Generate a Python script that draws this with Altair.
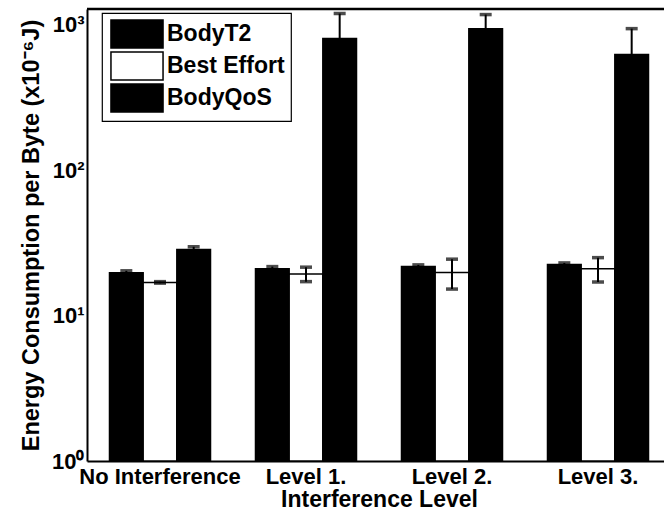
import altair as alt
import pandas as pd

# Interference levels on the x axis and the three protocols compared
levels = ["No Interference", "Level 1.", "Level 2.", "Level 3."]
series = ["BodyT2", "Best Effort", "BodyQoS"]

# Mean energy per byte (x10^-6 J) and its spread for each protocol
bodyt2 = [19.7, 21.0, 21.7, 22.4]
bodyt2_err = [0.6, 0.7, 0.6, 0.6]
best_effort = [16.9, 19.3, 19.8, 21.0]
best_effort_err = [0.2, 2.2, 4.6, 4.0]
bodyqos = [28.4, 801.0, 938.0, 622.0]
bodyqos_err = [1.3, 390.0, 234.0, 316.0]

rows = []
for name, vals, errs in [
    ("BodyT2", bodyt2, bodyt2_err),
    ("Best Effort", best_effort, best_effort_err),
    ("BodyQoS", bodyqos, bodyqos_err),
]:
    for lvl, v, e in zip(levels, vals, errs):
        rows.append({"level": lvl, "series": name, "value": v,
                     "lo": v - e, "hi": v + e})
df = pd.DataFrame(rows)

FONT = "Liberation Sans"

x_enc = alt.X(
    "level:N",
    sort=levels,
    scale=alt.Scale(domain=levels, range=[0, 584], paddingInner=0, paddingOuter=0),
    axis=alt.Axis(
        title="Interference Level",
        labelAngle=0,
        labelFontSize=22,
        labelFontWeight="bold",
        labelPadding=5,
        labelColor="black",
        ticks=False,
        domainColor="black",
        domainWidth=2,
        titleFontSize=23,
        titleFontWeight="bold",
        titlePadding=1,
        titleColor="black",
    ),
)
xo_enc = alt.XOffset(
    "series:N",
    sort=series,
    scale=alt.Scale(domain=series, paddingInner=0, paddingOuter=0.668),
)
y_scale = alt.Scale(type="log", domain=[1, 1280], nice=False)
y_axis = alt.Axis(
    title="Energy Consumption per Byte (x10⁻⁶J)",
    values=[1, 10, 100, 1000],
    labelExpr="'10' + ['⁰','¹','²','³'][round(log(datum.value)/LN10)]",
    labelFontSize=22,
    labelFontWeight="bold",
    labelPadding=3,
    labelColor="black",
    ticks=False,
    grid=False,
    domainColor="black",
    domainWidth=2,
    titleFontSize=23.5,
    titleFontWeight="bold",
    titlePadding=8,
    titleColor="black",
)

base = alt.Chart(df)

bars = base.mark_bar(stroke="black", strokeWidth=1.5).encode(
    x=x_enc,
    xOffset=xo_enc,
    y=alt.Y("value:Q", scale=y_scale, axis=y_axis),
    y2=alt.datum(1),
    fill=alt.Fill(
        "series:N",
        scale=alt.Scale(domain=series, range=["black", "white", "black"]),
        legend=alt.Legend(
            title=None,
            orient="none",
            legendX=15,
            legendY=4,
            padding=6,
            strokeColor="black",
            fillColor="white",
            labelFontSize=23,
            labelFontWeight="bold",
            labelColor="black",
            labelExpr="datum.label + '\u00a0\u00a0'",
            symbolType="M-1.86,-1H1.86V1H-1.86Z",
            symbolSize=784,
            symbolStrokeColor="black",
            symbolStrokeWidth=1.5,
            symbolOffset=14,
            labelOffset=15,
            rowPadding=-2,
        ),
    ),
)

err_rules = base.mark_rule(color="black", strokeWidth=2).encode(
    x=x_enc,
    xOffset=xo_enc,
    y=alt.Y("lo:Q", scale=y_scale, axis=y_axis),
    y2="hi:Q",
)
caps_hi = base.mark_tick(color="black", size=12, thickness=3.5).encode(
    x=x_enc,
    xOffset=xo_enc,
    y=alt.Y("hi:Q", scale=y_scale, axis=y_axis),
)
caps_lo = base.mark_tick(color="black", size=12, thickness=3.5).encode(
    x=x_enc,
    xOffset=xo_enc,
    y=alt.Y("lo:Q", scale=y_scale, axis=y_axis),
)

# upper frame line of the axes box
top_line = alt.Chart(pd.DataFrame({"k": [0]})).mark_rule(
    color="black", strokeWidth=2.5
).encode(x=alt.value(0), x2=alt.value(577), y=alt.value(0))

chart = (
    alt.layer(bars, err_rules, caps_hi, caps_lo, top_line)
    .properties(
        width=577,
        height=452,
        autosize=alt.AutoSizeParams(type="none"),
        padding={"left": 87, "top": 9, "right": 0, "bottom": 54},
        background="white",
    )
    .configure(font=FONT)
    .configure_view(stroke=None)
    .configure_legend(strokeWidth=1.2)
)

chart.save("out.html", embed_options={"renderer": "svg", "actions": False})
